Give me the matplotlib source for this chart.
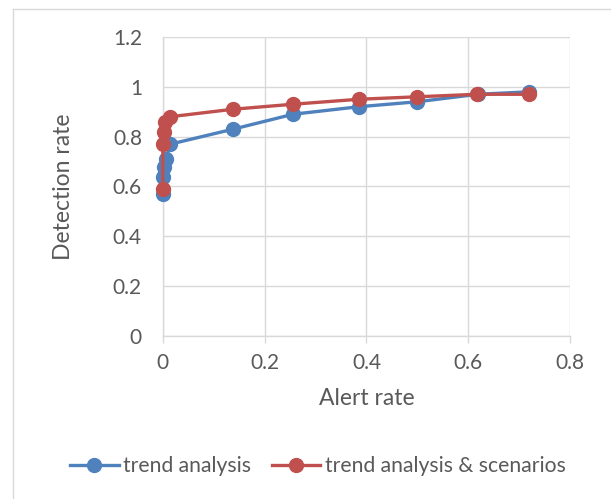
import matplotlib
matplotlib.use('Agg')
import matplotlib.pyplot as plt
from matplotlib.lines import Line2D

# alert rate vs detection rate for the two methods
trend_x = [0.0, 0.001, 0.003, 0.006, 0.015, 0.138, 0.256, 0.385, 0.5, 0.619, 0.72]
trend_y = [0.57, 0.64, 0.68, 0.71, 0.77, 0.83, 0.89, 0.92, 0.94, 0.97, 0.98]

scen_x = [0.0, 0.0, 0.002, 0.005, 0.015, 0.138, 0.255, 0.385, 0.5, 0.617, 0.72]
scen_y = [0.59, 0.77, 0.82, 0.86, 0.88, 0.91, 0.93, 0.95, 0.96, 0.97, 0.97]

xticks = [0, 0.2, 0.4, 0.6, 0.8]
yticks = [0, 0.2, 0.4, 0.6, 0.8, 1, 1.2]

blue = '#4F81BD'
red = '#C0504D'
grid_c = '#D9D9D9'
text_c = '#595959'

plt.rcParams['font.family'] = ['Lato', 'DejaVu Sans']

fig = plt.figure(figsize=(6.11, 4.99), dpi=100)
ax = fig.add_axes([0.2665, 0.3267, 0.6665, 0.5992])

ax.plot(trend_x, trend_y, color=blue, lw=2.4, marker='o', ms=10, zorder=3,
        clip_on=False, label='trend analysis')
ax.plot(scen_x, scen_y, color=red, lw=2.4, marker='o', ms=10, zorder=4,
        clip_on=False, label='trend analysis & scenarios')

ax.set_xlim(0, 0.8)
ax.set_ylim(0, 1.2)
ax.set_xticks(xticks)
ax.set_yticks(yticks)
ax.set_xticklabels(['0', '0.2', '0.4', '0.6', '0.8'])
ax.set_yticklabels(['0', '0.2', '0.4', '0.6', '0.8', '1', '1.2'])
ax.grid(True, color=grid_c, lw=1.0, zorder=0)
ax.set_axisbelow(True)

for side in ['top', 'right']:
    ax.spines[side].set_visible(False)
for side in ['left', 'bottom']:
    ax.spines[side].set_color(grid_c)
    ax.spines[side].set_linewidth(1.0)

ax.tick_params(axis='x', colors=grid_c, labelcolor=text_c, labelsize=15,
               length=5, width=1.0, pad=7)
ax.tick_params(axis='y', length=0, labelcolor=text_c, labelsize=15, pad=15)

ax.set_xlabel('Alert rate', fontsize=16.5, color=text_c, labelpad=11)
ax.set_ylabel('Detection rate', fontsize=16.5, color=text_c, labelpad=28)

handles = [Line2D([], [], color=blue, lw=2.4, marker='o', ms=10),
           Line2D([], [], color=red, lw=2.4, marker='o', ms=10)]
fig.legend(handles, ['trend analysis', 'trend analysis & scenarios'],
           loc='center', bbox_to_anchor=(0.52, 0.066), ncol=2, frameon=False,
           fontsize=15.2, labelcolor=text_c, handlelength=2.3,
           handletextpad=0.2, columnspacing=1.0)

# chart area border
fig.add_artist(Line2D([0.021, 0.021], [0.0, 0.982], color=grid_c, lw=1.0,
                      transform=fig.transFigure))
fig.add_artist(Line2D([0.021, 1.0], [0.982, 0.982], color=grid_c, lw=1.0,
                      transform=fig.transFigure))

fig.savefig('out.png', dpi=100)
